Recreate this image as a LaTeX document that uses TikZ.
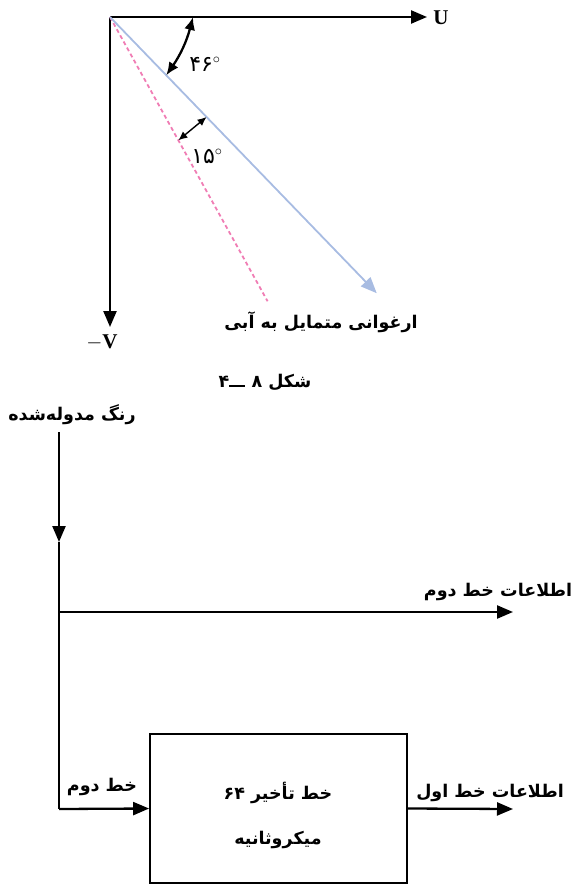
\documentclass[tikz,border=0pt]{standalone}
\usepackage{fontspec}
\usetikzlibrary{arrows.meta,calc}
\TeXXeTstate=1
\setmainfont{Liberation Serif}
\newfontfamily\arabicfont[Script=Arabic]{DejaVu Sans}
\definecolor{bluevec}{RGB}{168,188,226}
\definecolor{pinkvec}{RGB}{240,125,180}
\tikzset{
  bigtip/.style={-{Triangle[length=16pt,width=13pt]}},
  axisline/.style={line width=2.3pt, bigtip},
  wire/.style={line width=2.3pt},
  fa/.style={font=\arabicfont\bfseries\fontsize{17.5}{20}\selectfont, inner sep=0pt},
  num/.style={font=\arabicfont\fontsize{22}{24}\selectfont, inner sep=0pt},
  lat/.style={font=\bfseries\fontsize{21}{24}\selectfont, inner sep=0pt},
  delaybox/.style={draw, line width=1.8pt, minimum width=257pt, minimum height=149pt, inner sep=0pt}
}
\begin{document}
\begin{tikzpicture}[x=1pt,y=-1pt]
\useasboundingbox (0,0) rectangle (574,885);
% ---------- vector diagram ----------
\coordinate (O) at (110,17);
\coordinate (Uend) at (427,17);
\coordinate (Vend) at (110,327);
\node[lat] (U) at (441,18) {U};
\node[lat] (V) at (102,342) {$-$V};
\draw[axisline] (O) -- (Uend);
\draw[axisline] (O) -- (Vend);
\coordinate (B) at ($(O)+(46:384)$);
\coordinate (P) at ($(O)+(61:325)$);
\draw[pinkvec, line width=1.8pt, dash pattern=on 4pt off 3pt] (O) -- (P);
\draw[bluevec, line width=1.8pt, -{Triangle[length=16pt,width=13pt]}] (O) -- (B);
\coordinate (a1) at ($(O)+(0:83)$);
\coordinate (a2) at ($(O)+(46:81)$);
\draw[line width=2.3pt, {Latex[length=13pt,width=11pt]}-{Latex[length=13pt,width=11pt]}] (a1) to[bend left=10] (a2);
\coordinate (b1) at ($(O)+(46:139)$);
\coordinate (b2) at ($(O)+(61:141)$);
\draw[line width=1.4pt, {Latex[length=9pt,width=8pt]}-{Latex[length=9pt,width=8pt]}] (b1) -- (b2);
\node[num] (ang1) at (205,64) {۴۶$^{\circ}$};
\node[num] (ang2) at (207,156) {۱۵$^{\circ}$};
\node[fa] (purple) at (321,322) {\beginR ارغوانی متمایل به آبی\endR};
\node[fa] (cap) at (265,382) {\beginR شکل \beginL۸\endL{} \rule[0pt]{16pt}{1.8pt}\beginL۴\endL{}\endR};
% ---------- block diagram ----------
\node[fa] (mod) at (72,415) {\beginR رنگ مدوله‌شده\endR};
\coordinate (in) at (59,432);
\coordinate (mida) at (59,542);
\coordinate (j) at (59,612);
\coordinate (c) at (59,809);
\coordinate (o2) at (513,612);
\node[delaybox] (box) at (278.5,808.5) {};
\node[fa] (t1) at (278,793) {\beginR خط تأخیر \beginL۶۴\endL\endR};
\node[fa] (t2) at (278,840) {\beginR میکروثانیه\endR};
\coordinate (o1) at (513,809);
\draw[wire, bigtip] (in) -- (mida);
\draw[wire] (mida) -- (c);
\draw[wire, bigtip] (j) -- (o2);
\draw[wire, bigtip] (c) -- (box.west);
\draw[wire, bigtip] (box.east) -- (o1);
\node[fa] (l2) at (498,592) {\beginR اطلاعات خط دوم\endR};
\node[fa] (l1) at (490,793) {\beginR اطلاعات خط اول\endR};
\node[fa] (l3) at (102,787) {\beginR خط دوم\endR};
\end{tikzpicture}
\end{document}
